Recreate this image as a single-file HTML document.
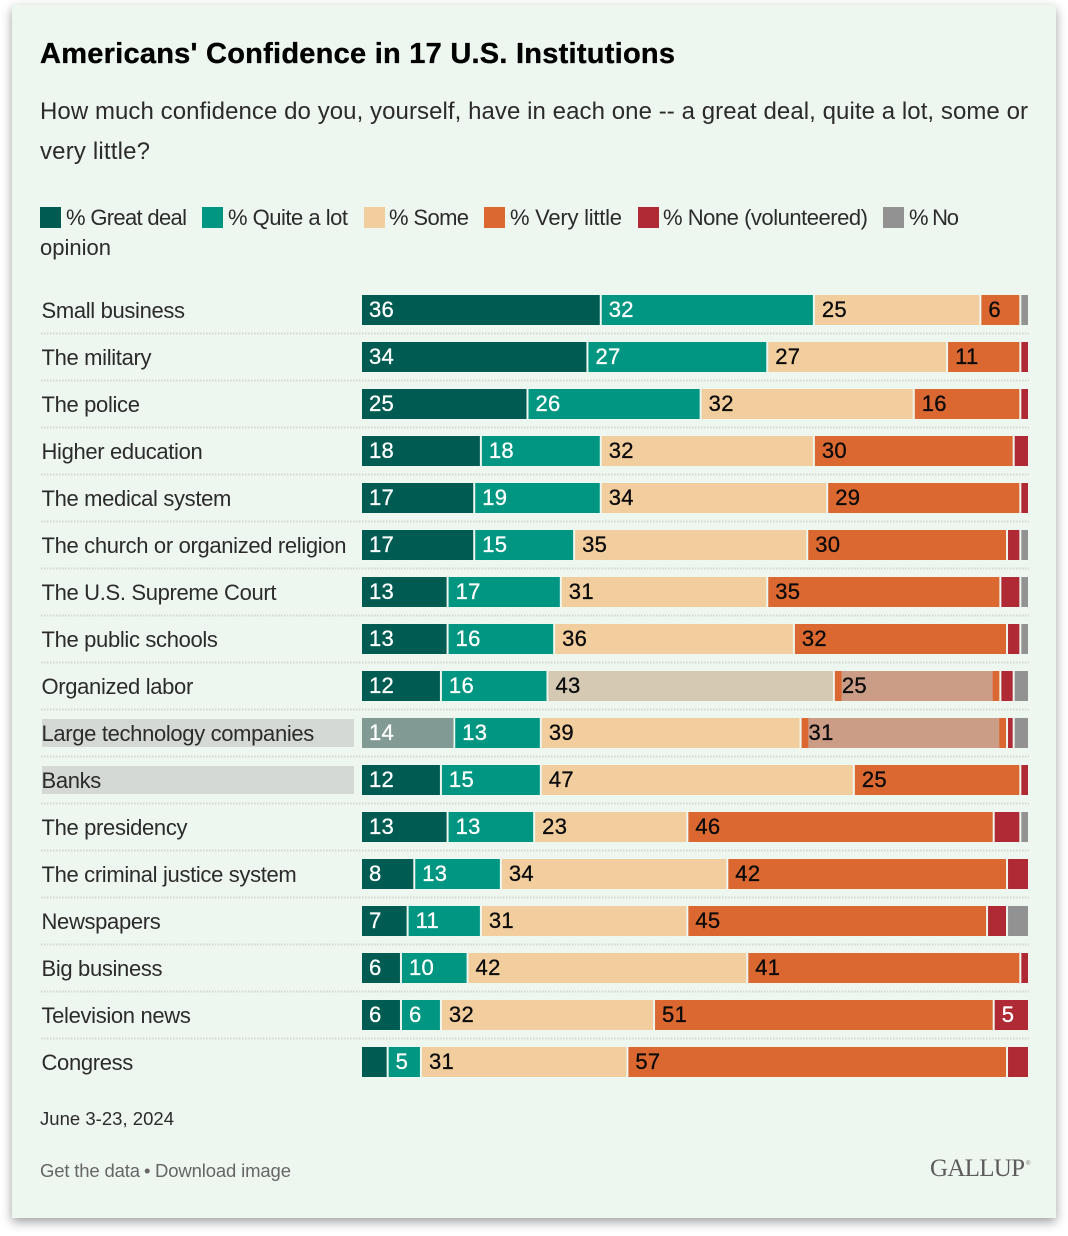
<!DOCTYPE html>
<html lang="en"><head><meta charset="utf-8"><title>Americans' Confidence in 17 U.S. Institutions</title>
<style>
html,body{margin:0;padding:0;background:#fff;width:1068px;height:1236px;overflow:hidden}
#card{position:absolute;left:12px;top:5px;width:1044px;height:1213px;background:#edf6ef;box-shadow:0 4px 10px rgba(0,0,0,.38)}
svg{position:absolute;left:0;top:0}
text{font-family:"Liberation Sans",sans-serif;fill:#2b2b2b}
</style></head><body>
<div id="card"></div>
<svg id="chart" width="1068" height="1236" viewBox="0 0 1068 1236">
<text x="40" y="63" font-size="29" font-weight="700" style="fill:#000;stroke:#000;stroke-width:.35" textLength="635" lengthAdjust="spacing">Americans' Confidence in 17 U.S. Institutions</text>
<text x="40" y="119" font-size="24" textLength="988" lengthAdjust="spacing">How much confidence do you, yourself, have in each one -- a great deal, quite a lot, some or</text>
<text x="40" y="159" font-size="24" textLength="110" lengthAdjust="spacing">very little?</text>

<rect x="40" y="207" width="21" height="21" fill="#005c53"/>
<text x="66" y="225" font-size="22" textLength="121" lengthAdjust="spacing">% Great deal</text>
<rect x="202" y="207" width="21" height="21" fill="#009681"/>
<text x="228" y="225" font-size="22" textLength="120" lengthAdjust="spacing">% Quite a lot</text>
<rect x="364" y="207" width="21" height="21" fill="#f2ce9e"/>
<text x="389" y="225" font-size="22" textLength="80" lengthAdjust="spacing">% Some</text>
<rect x="484" y="207" width="21" height="21" fill="#da6830"/>
<text x="510" y="225" font-size="22" textLength="112" lengthAdjust="spacing">% Very little</text>
<rect x="638" y="207" width="21" height="21" fill="#b02a35"/>
<text x="663" y="225" font-size="22" textLength="205" lengthAdjust="spacing">% None (volunteered)</text>
<rect x="883" y="207" width="21" height="21" fill="#929292"/>
<text x="909" y="225" font-size="22" textLength="50" lengthAdjust="spacing">% No</text>
<text x="40" y="255" font-size="22" textLength="71" lengthAdjust="spacing">opinion</text>

<g id="rows"></g>

<text x="40" y="1125" font-size="18.5" textLength="134" lengthAdjust="spacing">June 3-23, 2024</text>
<text x="40" y="1177" font-size="18.5" style="fill:#666" textLength="100" lengthAdjust="spacing">Get the data</text>
<text x="144" y="1177" font-size="18.5" style="fill:#666">•</text>
<text x="155" y="1177" font-size="18.5" style="fill:#666" textLength="136" lengthAdjust="spacing">Download image</text>
<text x="930" y="1176" font-size="25" style="font-family:'Liberation Serif',serif;fill:#5c5c5c" textLength="95" lengthAdjust="spacing">GALLUP</text>
<text x="1026" y="1165" font-size="6" style="fill:#777">®</text>
</svg>
<script>
const categories = ["Small business","The military","The police","Higher education","The medical system","The church or organized religion","The U.S. Supreme Court","The public schools","Organized labor","Large technology companies","Banks","The presidency","The criminal justice system","Newspapers","Big business","Television news","Congress"];
const greatDeal = [36,34,25,18,17,17,13,13,12,14,12,13,8,7,6,6,4];
const quiteALot = [32,27,26,18,19,15,17,16,16,13,15,13,13,11,10,6,5];
const some = [25,27,32,32,34,35,31,36,43,39,47,23,34,31,42,32,31];
const veryLittle = [6,11,16,30,29,30,35,32,25,31,25,46,42,45,41,51,57];
const noneVolunteered = [0,1,1,2,1,2,3,2,2,1,1,4,3,3,1,5,3];
const noOpinion = [1,0,0,0,0,1,1,1,2,2,0,1,0,3,0,0,0];
const seriesNames = ["great-deal","quite-a-lot","some","very-little","none","no-opinion"];
const highlightedLabels = ["Large technology companies","Banks"];

const allSeries = [greatDeal,quiteALot,some,veryLittle,noneVolunteered,noOpinion];
const colors = ["#005c53","#009681","#f2ce9e","#da6830","#b02a35","#929292"];
const overlayColors = ["#829a94","","#d6c9b4","#cb9c86","",""];
const labelColors = ["#fff","#fff","#0a0a0a","#0a0a0a","#fff","#0a0a0a"];
const NS = "http://www.w3.org/2000/svg";
const root = document.getElementById("rows");
const xScale = v => 362 + v * 6.66;
const rowTop = i => 295 + i * 47;
const MIN_LABEL = 5;

function make(tag, attrs, text) {
  const el = document.createElementNS(NS, tag);
  for (const k in attrs) el.setAttribute(k, attrs[k]);
  if (text !== undefined) el.textContent = text;
  root.appendChild(el);
  return el;
}
function slug(s) { return s.toLowerCase().replace(/[^a-z0-9]+/g, "-"); }

categories.forEach((cat, i) => {
  const y = rowTop(i);
  if (highlightedLabels.includes(cat)) {
    const hl = make("rect", {x:42, y:y+1, width:312, height:28, fill:"#d4d9d5"});
    
    
  }
  const lab = make("text", {x:41.5, y:y+23, "font-size":22, "letter-spacing":"-0.34px"}, cat);
  
  

  let lastNonZero = 0;
  allSeries.forEach((s, k) => { if (s[i] > 0) lastNonZero = k; });
  let cum = 0;
  allSeries.forEach((s, k) => {
    const v = s[i];
    if (v <= 0) return;
    const x0 = xScale(cum), x1 = xScale(cum + v);
    const w = x1 - x0 - (k === lastNonZero ? 0 : 2);
    const seg = make("rect", {x:x0, y:y, width:w, height:30, fill:colors[k]});
    
    
    const dim = (cat === "Organized labor" && (k === 2 || k === 3)) || (cat === "Large technology companies" && (k === 0 || k === 3));
    if (dim) {
      const inset = k === 3 ? 6.66 : 0;
      const ov = make("rect", {x:x0+inset, y:y, width:w-inset-(k===3?6.66:0), height:30, fill:overlayColors[k]});
      
      
    }
    if (v >= MIN_LABEL) {
      const t = make("text", {x:x0+7, y:y+22, "font-size":22, "letter-spacing":"0.3px"}, String(v));
      t.style.fill = labelColors[k];
      t.style.stroke = labelColors[k];
      t.style.strokeWidth = "0.3px";
      
      
    }
    cum += v;
  });
  if (i < categories.length - 1) {
    const ln = make("line", {x1:41, x2:1029, y1:y+38.5, y2:y+38.5, stroke:"#d3d8d4", "stroke-width":2, "stroke-dasharray":"1.5 1.5"});
    
    
  }
});
</script>
</body></html>
